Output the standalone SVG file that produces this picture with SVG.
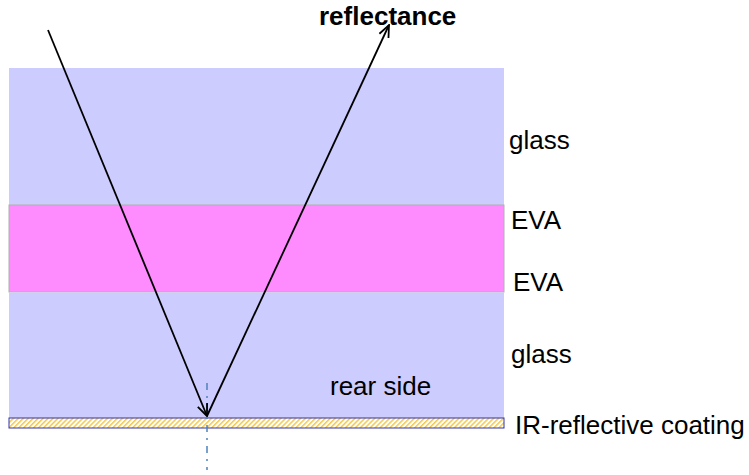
<svg xmlns="http://www.w3.org/2000/svg" width="749" height="475" viewBox="0 0 749 475">
<style>
.lbl{font-family:"Liberation Sans",Arial,sans-serif;font-size:26px;fill:#000}
.ray{stroke:#000;stroke-width:1.8;fill:none;marker-end:url(#arr)}
</style>
<defs>
<marker id="arr" viewBox="0 0 14 12" refX="13" refY="6" markerWidth="14" markerHeight="12" markerUnits="userSpaceOnUse" orient="auto">
<path d="M1,1 L13,6 L1,11" fill="none" stroke="#000" stroke-width="1.8"/>
</marker>
<pattern id="hatch" width="3.5" height="3.5" patternUnits="userSpaceOnUse" patternTransform="rotate(45)">
<rect width="3.5" height="3.5" fill="#ffffff"/>
<rect width="1.5" height="3.5" fill="#f2c94c"/>
</pattern>
</defs>
<g id="glass-top"><rect x="9" y="68" width="495" height="137" fill="#ccccff"/></g>
<g id="eva"><rect x="9" y="205" width="495" height="87" fill="#ff8cff" stroke="#b0b0b0" stroke-width="1"/></g>
<g id="glass-bottom"><rect x="9" y="292.5" width="495" height="125.5" fill="#ccccff"/></g>
<g id="coating"><rect x="9" y="418" width="495" height="10" fill="url(#hatch)" stroke="#3333aa" stroke-width="1"/></g>
<g id="connectors">
<line x1="207" y1="383" x2="207" y2="470" stroke="#4f81bd" stroke-width="1.5" stroke-dasharray="7,6,2,6"/>
<line class="ray" x1="48" y1="30" x2="207" y2="416"/>
<line class="ray" x1="207" y1="416" x2="389" y2="25"/>
</g>
<g id="labels">
<text x="319" y="25" class="lbl" style="font-weight:bold">reflectance</text>
<text x="509" y="149" class="lbl">glass</text>
<text x="511" y="229" class="lbl">EVA</text>
<text x="513" y="291" class="lbl">EVA</text>
<text x="511" y="363" class="lbl">glass</text>
<text x="330" y="395" class="lbl">rear side</text>
<text x="515" y="434" class="lbl">IR-reflective coating</text>
</g>
</svg>
